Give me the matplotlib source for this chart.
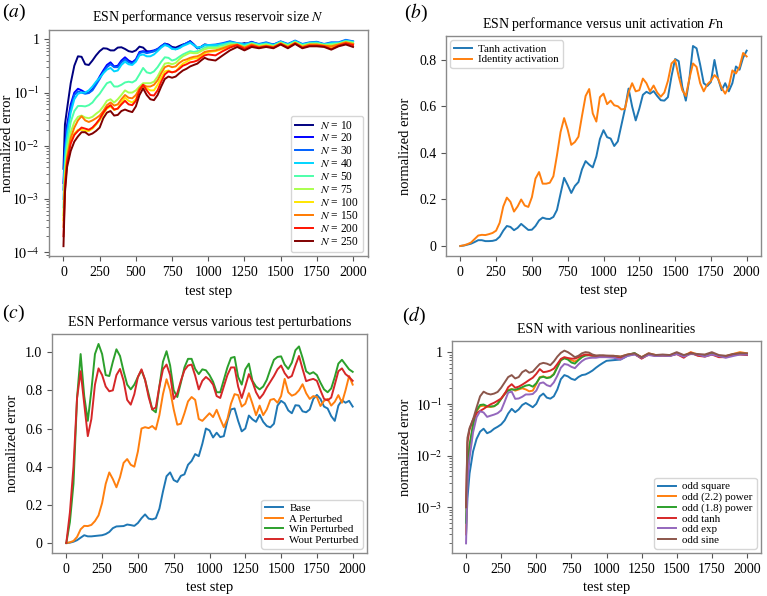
import numpy as np
import matplotlib
matplotlib.use("Agg")
import matplotlib.pyplot as plt
from matplotlib.ticker import FuncFormatter, NullFormatter, LogLocator

plt.rcParams['font.family'] = ['Liberation Serif', 'DejaVu Serif']
plt.rcParams['mathtext.fontset'] = 'stix'
plt.rcParams['font.size'] = 9.5

# ---------- data ----------
# x grid for log panels (a) and (d)
STEPS_LOG = [0, 10] + list(range(25, 1001, 25)) + list(range(1050, 2001, 50))
# x grid for linear panels (b) and (c)
STEPS_LIN = list(range(0, 2001, 25))

# (a) reservoir size
SIZES = [10, 20, 30, 40, 50, 75, 100, 150, 200, 250]
err_n10 = [0.0037, 0.025, 0.05, 0.15, 0.32, 0.48, 0.47, 0.34, 0.33, 0.4,
           0.5, 0.6, 0.68, 0.67, 0.62, 0.62, 0.7, 0.71, 0.66, 0.6, 0.58, 0.62,
           0.73, 0.7, 0.6, 0.58, 0.6, 0.65, 0.72, 0.83, 0.8, 0.72, 0.7, 0.75,
           0.8, 0.83, 0.92, 0.8, 0.68, 0.72, 0.8, 0.78,
           0.75, 0.8, 0.85, 0.78, 0.85, 0.78, 0.82, 0.75, 0.8, 0.88, 0.78,
           0.85, 0.8, 0.82, 0.85, 0.78, 0.82, 0.8, 0.88, 0.82]
err_n20 = [0.002, 0.01, 0.025, 0.06, 0.1, 0.118, 0.11, 0.1, 0.1, 0.115,
           0.15, 0.2, 0.26, 0.33, 0.37, 0.31, 0.32, 0.4, 0.46, 0.4, 0.37, 0.42,
           0.58, 0.6, 0.58, 0.6, 0.62, 0.66, 0.75, 0.83, 0.78, 0.68, 0.66, 0.7,
           0.78, 0.85, 0.92, 0.8, 0.68, 0.72, 0.78, 0.76,
           0.78, 0.82, 0.9, 0.82, 0.8, 0.9, 0.8, 0.85, 0.78, 0.9, 0.8,
           0.92, 0.8, 0.85, 0.88, 0.8, 0.85, 0.85, 0.95, 0.9]
err_n30 = [0.0015, 0.008, 0.02, 0.05, 0.09, 0.105, 0.1, 0.095, 0.098, 0.11,
           0.14, 0.18, 0.24, 0.3, 0.34, 0.3, 0.3, 0.37, 0.42, 0.37, 0.35, 0.4,
           0.55, 0.58, 0.55, 0.57, 0.6, 0.65, 0.74, 0.82, 0.76, 0.68, 0.65, 0.7,
           0.78, 0.85, 0.9, 0.78, 0.68, 0.72, 0.8, 0.78,
           0.8, 0.85, 0.92, 0.85, 0.82, 0.88, 0.82, 0.88, 0.8, 0.92, 0.82,
           0.95, 0.82, 0.88, 0.9, 0.82, 0.88, 0.88, 0.98, 0.92]
err_n40 = [0.001, 0.006, 0.016, 0.042, 0.075, 0.095, 0.1, 0.1, 0.11, 0.13,
           0.16, 0.19, 0.23, 0.27, 0.29, 0.25, 0.26, 0.33, 0.38, 0.34, 0.33, 0.38,
           0.5, 0.52, 0.48, 0.48, 0.52, 0.6, 0.7, 0.78, 0.74, 0.66, 0.65, 0.68,
           0.75, 0.8, 0.86, 0.78, 0.7, 0.72, 0.78, 0.78,
           0.78, 0.82, 0.88, 0.85, 0.8, 0.86, 0.8, 0.85, 0.78, 0.9, 0.8,
           0.93, 0.8, 0.86, 0.88, 0.8, 0.85, 0.86, 0.95, 0.9]
err_n50 = [0.0007, 0.004, 0.011, 0.028, 0.045, 0.056, 0.056, 0.055, 0.058, 0.065,
           0.08, 0.095, 0.12, 0.15, 0.16, 0.13, 0.13, 0.14, 0.155, 0.16, 0.155, 0.17,
           0.22, 0.29, 0.24, 0.23, 0.25, 0.3, 0.38, 0.46, 0.45, 0.4, 0.42, 0.47,
           0.52, 0.56, 0.6, 0.58, 0.6, 0.64, 0.7, 0.72,
           0.72, 0.78, 0.85, 0.82, 0.75, 0.85, 0.78, 0.82, 0.76, 0.88, 0.78,
           0.9, 0.78, 0.84, 0.85, 0.8, 0.82, 0.84, 0.92, 0.88]
err_n75 = [0.0005, 0.003, 0.008, 0.018, 0.028, 0.035, 0.037, 0.034, 0.033, 0.035,
           0.04, 0.045, 0.055, 0.07, 0.075, 0.065, 0.075, 0.09, 0.11, 0.1, 0.1, 0.11,
           0.13, 0.15, 0.15, 0.15, 0.16, 0.2, 0.27, 0.35, 0.36, 0.34, 0.36, 0.42,
           0.48, 0.52, 0.56, 0.55, 0.55, 0.6, 0.65, 0.68,
           0.68, 0.72, 0.8, 0.8, 0.72, 0.82, 0.75, 0.8, 0.74, 0.86, 0.76,
           0.88, 0.76, 0.82, 0.82, 0.78, 0.78, 0.82, 0.9, 0.85]
err_n100 = [0.0004, 0.0022, 0.006, 0.012, 0.017, 0.02, 0.02, 0.019, 0.019, 0.021,
            0.025, 0.03, 0.04, 0.05, 0.055, 0.047, 0.05, 0.065, 0.08, 0.07, 0.065, 0.075,
            0.11, 0.13, 0.12, 0.11, 0.11, 0.14, 0.19, 0.25, 0.26, 0.24, 0.25, 0.3,
            0.35, 0.38, 0.42, 0.44, 0.44, 0.48, 0.55, 0.58,
            0.6, 0.66, 0.75, 0.78, 0.68, 0.78, 0.72, 0.76, 0.7, 0.82, 0.72,
            0.85, 0.72, 0.78, 0.78, 0.76, 0.72, 0.8, 0.86, 0.8]
err_n150 = [0.0003, 0.002, 0.006, 0.014, 0.022, 0.03, 0.036, 0.03, 0.028, 0.03,
            0.033, 0.037, 0.045, 0.058, 0.065, 0.057, 0.06, 0.075, 0.09, 0.08, 0.078, 0.09,
            0.12, 0.14, 0.13, 0.13, 0.14, 0.17, 0.23, 0.3, 0.32, 0.3, 0.31, 0.36,
            0.4, 0.42, 0.45, 0.47, 0.48, 0.52, 0.58, 0.6,
            0.62, 0.68, 0.76, 0.8, 0.7, 0.8, 0.72, 0.76, 0.72, 0.84, 0.72,
            0.86, 0.72, 0.8, 0.8, 0.76, 0.74, 0.8, 0.88, 0.82]
err_n200 = [0.0002, 0.0015, 0.005, 0.011, 0.016, 0.019, 0.022, 0.021, 0.02, 0.022,
            0.026, 0.032, 0.042, 0.052, 0.058, 0.048, 0.05, 0.06, 0.07, 0.06, 0.058, 0.07,
            0.11, 0.14, 0.11, 0.09, 0.088, 0.11, 0.16, 0.22, 0.25, 0.24, 0.25, 0.28,
            0.32, 0.34, 0.37, 0.38, 0.4, 0.45, 0.5, 0.52,
            0.5, 0.6, 0.7, 0.78, 0.66, 0.76, 0.7, 0.74, 0.7, 0.82, 0.7,
            0.84, 0.7, 0.76, 0.76, 0.74, 0.66, 0.76, 0.84, 0.78]
err_n250 = [0.00013, 0.0013, 0.004, 0.008, 0.012, 0.015, 0.018, 0.018, 0.016, 0.017,
            0.019, 0.022, 0.033, 0.042, 0.045, 0.037, 0.038, 0.045, 0.048, 0.045, 0.043, 0.055,
            0.09, 0.12, 0.09, 0.075, 0.072, 0.09, 0.13, 0.18, 0.2, 0.19, 0.2, 0.23,
            0.26, 0.28, 0.31, 0.33, 0.35, 0.4, 0.45, 0.42,
            0.4, 0.5, 0.62, 0.72, 0.62, 0.72, 0.68, 0.72, 0.68, 0.8, 0.68,
            0.82, 0.68, 0.74, 0.74, 0.72, 0.64, 0.74, 0.8, 0.72]
ERR_SIZE = [err_n10, err_n20, err_n30, err_n40, err_n50,
            err_n75, err_n100, err_n150, err_n200, err_n250]

# (b) unit activation
err_tanh = [0.0, 0.002, 0.006, 0.01, 0.017, 0.025, 0.025, 0.021, 0.021, 0.022,
            0.026, 0.04, 0.066, 0.086, 0.082, 0.068, 0.078, 0.095, 0.082, 0.069,
            0.07, 0.086, 0.11, 0.122, 0.117, 0.116, 0.125, 0.155, 0.225, 0.293,
            0.262, 0.228, 0.258, 0.275, 0.33, 0.365, 0.35, 0.338, 0.385, 0.46,
            0.498, 0.468, 0.462, 0.43, 0.45, 0.52, 0.59, 0.677, 0.6, 0.54,
            0.59, 0.65, 0.663, 0.655, 0.666, 0.645, 0.627, 0.625, 0.64, 0.73,
            0.804, 0.795, 0.685, 0.625, 0.72, 0.86, 0.85, 0.78, 0.7, 0.688,
            0.705, 0.8, 0.72, 0.67, 0.7, 0.665, 0.7, 0.772, 0.758, 0.81, 0.84]
err_identity = [0.0, 0.003, 0.008, 0.015, 0.03, 0.045, 0.048, 0.047, 0.051, 0.056,
                0.066, 0.1, 0.17, 0.208, 0.19, 0.148, 0.17, 0.2, 0.174, 0.168,
                0.21, 0.29, 0.318, 0.268, 0.268, 0.272, 0.3, 0.39, 0.49, 0.55,
                0.5, 0.435, 0.447, 0.47, 0.56, 0.645, 0.675, 0.57, 0.535, 0.64,
                0.655, 0.61, 0.625, 0.605, 0.601, 0.587, 0.59, 0.66, 0.7, 0.665,
                0.67, 0.72, 0.7, 0.665, 0.69, 0.66, 0.642, 0.66, 0.71, 0.785,
                0.8, 0.73, 0.67, 0.645, 0.72, 0.785, 0.77, 0.7, 0.665, 0.695,
                0.71, 0.735, 0.72, 0.68, 0.655, 0.685, 0.755, 0.742, 0.77, 0.83, 0.815]

# (c) test perturbations
err_base = [0, 0.002, 0.007, 0.015, 0.028, 0.041, 0.035, 0.035, 0.037, 0.039,
            0.041, 0.047, 0.058, 0.078, 0.087, 0.088, 0.089, 0.097, 0.094, 0.09,
            0.105, 0.13, 0.15, 0.128, 0.124, 0.13, 0.18, 0.27, 0.35, 0.37,
            0.33, 0.32, 0.352, 0.36, 0.41, 0.43, 0.466, 0.455, 0.52, 0.6,
            0.59, 0.553, 0.578, 0.555, 0.56, 0.64, 0.7, 0.705, 0.64, 0.585,
            0.6, 0.668, 0.648, 0.635, 0.672, 0.635, 0.613, 0.606, 0.625, 0.72,
            0.745, 0.732, 0.695, 0.68, 0.722, 0.72, 0.69, 0.685, 0.7, 0.755,
            0.776, 0.755, 0.715, 0.705, 0.665, 0.64, 0.72, 0.748, 0.735, 0.745, 0.715]
err_a_pert = [0, 0.004, 0.011, 0.032, 0.072, 0.09, 0.089, 0.095, 0.115, 0.145,
              0.21, 0.31, 0.37, 0.335, 0.292, 0.345, 0.42, 0.44, 0.41, 0.4,
              0.48, 0.6, 0.607, 0.602, 0.613, 0.595, 0.67, 0.78, 0.858, 0.8,
              0.7, 0.62, 0.625, 0.68, 0.742, 0.765, 0.75, 0.65, 0.64, 0.66,
              0.68, 0.66, 0.698, 0.65, 0.607, 0.65, 0.73, 0.78, 0.775, 0.715,
              0.73, 0.785, 0.73, 0.67, 0.72, 0.67, 0.7, 0.75, 0.755, 0.735,
              0.77, 0.86, 0.79, 0.772, 0.78, 0.8, 0.832, 0.785, 0.755, 0.77,
              0.765, 0.718, 0.745, 0.755, 0.72, 0.74, 0.775, 0.735, 0.8, 0.875, 0.83]
err_win_pert = [0, 0.11, 0.31, 0.76, 0.99, 0.77, 0.64, 0.8, 0.99, 1.043,
                0.99, 0.88, 0.875, 0.95, 1.015, 0.98, 0.9, 0.83, 0.805, 0.83,
                0.87, 0.905, 0.855, 0.78, 0.7, 0.685, 0.82, 0.95, 1.005, 0.93,
                0.8, 0.765, 0.84, 0.92, 0.965, 0.965, 0.912, 0.885, 0.91, 0.905,
                0.88, 0.845, 0.79, 0.79, 0.855, 0.92, 0.97, 0.975, 0.87, 0.83,
                0.91, 0.94, 0.85, 0.82, 0.805, 0.82, 0.855, 0.91, 0.96, 0.975,
                0.978, 0.935, 0.912, 0.945, 1.01, 1.03, 0.97, 0.9, 0.886, 0.895,
                0.88, 0.84, 0.805, 0.79, 0.81, 0.87, 0.94, 0.96, 0.935, 0.91, 0.897]
err_wout_pert = [0, 0.16, 0.4, 0.76, 0.9, 0.73, 0.56, 0.65, 0.83, 0.915,
                 0.88, 0.82, 0.795, 0.8, 0.88, 0.912, 0.85, 0.75, 0.725, 0.78,
                 0.87, 0.91, 0.855, 0.765, 0.7, 0.71, 0.82, 0.91, 0.935, 0.88,
                 0.755, 0.785, 0.85, 0.905, 0.93, 0.935, 0.877, 0.805, 0.85, 0.87,
                 0.855, 0.83, 0.77, 0.76, 0.82, 0.88, 0.92, 0.92, 0.82, 0.76,
                 0.82, 0.885, 0.845, 0.79, 0.757, 0.78, 0.815, 0.845, 0.875, 0.91,
                 0.93, 0.89, 0.865, 0.875, 0.93, 0.98, 0.912, 0.848, 0.855, 0.86,
                 0.85, 0.8, 0.755, 0.748, 0.762, 0.83, 0.9, 0.915, 0.885, 0.87, 0.85]

# (d) nonlinearities
err_sq = [0.0003, 0.0015, 0.0045, 0.012, 0.021, 0.029, 0.033, 0.027, 0.029, 0.033,
          0.036, 0.04, 0.048, 0.065, 0.08, 0.069, 0.078, 0.095, 0.104, 0.095, 0.086, 0.1,
          0.14, 0.158, 0.132, 0.126, 0.14, 0.19, 0.3, 0.36, 0.34, 0.305, 0.29, 0.33,
          0.36, 0.37, 0.4, 0.44, 0.5, 0.56, 0.62, 0.68,
          0.7, 0.72, 0.85, 0.92, 0.76, 0.92, 0.86, 0.86, 0.85, 0.94, 0.84,
          0.96, 0.88, 0.84, 0.92, 0.84, 0.8, 0.88, 0.92, 0.9]
err_pow22 = [0.0003, 0.005, 0.014, 0.038, 0.072, 0.09, 0.092, 0.088, 0.087, 0.09,
             0.1, 0.125, 0.16, 0.185, 0.195, 0.18, 0.19, 0.2, 0.19, 0.175, 0.18, 0.24,
             0.33, 0.34, 0.32, 0.33, 0.38, 0.52, 0.7, 0.77, 0.74, 0.7, 0.66, 0.72,
             0.82, 0.88, 0.9, 0.86, 0.83, 0.84, 0.85, 0.84,
             0.85, 0.82, 0.9, 0.94, 0.8, 0.95, 0.88, 0.88, 0.86, 0.96, 0.85,
             1.0, 0.9, 0.86, 0.95, 0.84, 0.84, 0.92, 1.0, 0.95]
err_pow18 = [0.0005, 0.006, 0.016, 0.04, 0.075, 0.095, 0.097, 0.09, 0.089, 0.09,
             0.1, 0.125, 0.155, 0.18, 0.19, 0.188, 0.197, 0.21, 0.225, 0.232, 0.215, 0.25,
             0.32, 0.335, 0.315, 0.325, 0.37, 0.51, 0.7, 0.76, 0.72, 0.63, 0.6, 0.7,
             0.8, 0.86, 0.87, 0.85, 0.84, 0.85, 0.84, 0.83,
             0.84, 0.8, 0.88, 0.96, 0.78, 0.92, 0.86, 0.88, 0.86, 0.95, 0.84,
             0.96, 0.88, 0.84, 0.93, 0.82, 0.82, 0.9, 0.94, 0.9]
err_tanh_d = [0.001, 0.018, 0.032, 0.05, 0.066, 0.073, 0.08, 0.089, 0.098, 0.105,
              0.115, 0.127, 0.155, 0.21, 0.24, 0.205, 0.215, 0.235, 0.26, 0.29, 0.32, 0.38,
              0.47, 0.41, 0.42, 0.44, 0.48, 0.59, 0.74, 0.8, 0.77, 0.75, 0.75, 0.8,
              0.86, 0.9, 0.88, 0.86, 0.85, 0.84, 0.83, 0.82,
              0.82, 0.78, 0.88, 0.92, 0.75, 0.9, 0.85, 0.86, 0.85, 0.92, 0.78,
              0.98, 0.85, 0.82, 0.9, 0.8, 0.8, 0.9, 0.9, 0.88]
err_exp = [0.0002, 0.003, 0.009, 0.028, 0.055, 0.072, 0.068, 0.056, 0.059, 0.062,
           0.066, 0.075, 0.11, 0.165, 0.172, 0.125, 0.127, 0.137, 0.152, 0.152, 0.155, 0.18,
           0.25, 0.26, 0.23, 0.218, 0.26, 0.35, 0.5, 0.59, 0.57, 0.52, 0.49, 0.58,
           0.67, 0.74, 0.77, 0.78, 0.78, 0.8, 0.8, 0.8,
           0.78, 0.72, 0.85, 0.9, 0.78, 0.88, 0.84, 0.86, 0.84, 0.92, 0.82,
           0.92, 0.9, 0.82, 0.9, 0.84, 0.78, 0.84, 0.9, 0.9]
err_sine = [0.001, 0.022, 0.034, 0.05, 0.085, 0.14, 0.172, 0.158, 0.152, 0.158,
            0.17, 0.205, 0.26, 0.33, 0.36, 0.31, 0.33, 0.41, 0.45, 0.4, 0.42, 0.5,
            0.59, 0.62, 0.6, 0.56, 0.66, 0.82, 0.97, 1.07, 1.0, 0.9, 0.8, 0.85,
            0.95, 1.0, 0.98, 0.9, 0.86, 0.87, 0.87, 0.86,
            0.85, 0.82, 0.9, 0.95, 0.8, 0.95, 0.88, 0.9, 0.88, 1.0, 0.88,
            0.95, 0.92, 0.9, 1.0, 0.88, 0.85, 0.92, 0.95, 0.95]

ACT_LABELS = ["Tanh activation", "Identity activation"]
PERT_LABELS = ["Base", "A Perturbed", "Win Perturbed", "Wout Perturbed"]
NONLIN_LABELS = ["odd square", "odd (2.2) power", "odd (1.8) power",
                 "odd tanh", "odd exp", "odd sine"]
X_TICKS = list(range(0, 2001, 250))


# ---------- helpers ----------
def log_fmt(v, pos):
    e = int(round(np.log10(v)))
    if e == 0:
        return "1"
    return r"$10^{%d}$" % e


def lin_fmt(v, pos):
    if abs(v) < 1e-9:
        return "0"
    return f"{v:.1f}"


def style_axes(ax, title, ylabel_px, ax_left, ax_width, log=False):
    for sp in ax.spines.values():
        sp.set_color('#8a8a8a')
        sp.set_linewidth(1.0)
    ax.tick_params(which='both', direction='out', color='#555555',
                   labelsize=10, top=False, right=False)
    ax.tick_params(which='major', length=3.5, width=0.8)
    ax.tick_params(which='minor', length=2, width=0.6)
    ax.set_xticks(X_TICKS)
    ax.set_xlabel("test step", fontsize=10.5)
    ax.set_ylabel("normalized error", fontsize=10.5)
    # anchor of a y label is its right edge; ylabel_px is the wanted centre
    ax.yaxis.set_label_coords((ylabel_px + 6.5 - ax_left) / ax_width, 0.5)
    ax.set_title(title, fontsize=10)
    if log:
        ax.set_yscale('log')
        ax.yaxis.set_major_locator(LogLocator(base=10))
        ax.yaxis.set_major_formatter(FuncFormatter(log_fmt))
        ax.yaxis.set_minor_formatter(NullFormatter())
    else:
        ax.yaxis.set_major_formatter(FuncFormatter(lin_fmt))


def leg_kw(size):
    return dict(fontsize=size, labelspacing=0.08, handlelength=1.6,
                borderpad=0.35, handletextpad=0.6, borderaxespad=0.4)


fig = plt.figure(figsize=(7.67, 5.96), dpi=100)
W, H = 767, 596


def add_ax(left, top, right, bottom):
    return fig.add_axes([left / W, 1 - bottom / H, (right - left) / W, (bottom - top) / H])


ax_a = add_ax(49, 29.5, 367.5, 256.5)
ax_b = add_ax(446, 36, 761, 256)
ax_c = add_ax(52, 334, 367, 553)
ax_d = add_ax(452, 341, 761, 553)

# ---------- (a) ----------
jet = plt.get_cmap('jet')
for i, (n, err) in enumerate(zip(SIZES, ERR_SIZE)):
    ax_a.plot(STEPS_LOG, err, color=jet(i / (len(SIZES) - 1)), lw=1.4,
              label=rf"$N$ = {n}")
style_axes(ax_a, r"ESN performance versus reservoir size $N$", 8, 49, 318.5, log=True)
ax_a.legend(loc='lower right', **leg_kw(8.3))

# ---------- (b) ----------
ax_b.plot(STEPS_LIN, err_tanh, color='tab:blue', lw=1.4, label=ACT_LABELS[0])
ax_b.plot(STEPS_LIN, err_identity, color='tab:orange', lw=1.4, label=ACT_LABELS[1])
style_axes(ax_b, r"ESN performance versus unit activation $F$n", 405.5, 446, 315)
ax_b.set_yticks([0, 0.2, 0.4, 0.6, 0.8])
ax_b.legend(loc='upper left', **leg_kw(7.9))

# ---------- (c) ----------
for err, lab, col in zip([err_base, err_a_pert, err_win_pert, err_wout_pert],
                         PERT_LABELS,
                         ['tab:blue', 'tab:orange', 'tab:green', 'tab:red']):
    ax_c.plot(STEPS_LIN, err, color=col, lw=1.4, label=lab)
style_axes(ax_c, "ESN Performance versus various test perturbations", 12.5, 52, 315)
ax_c.set_yticks([0, 0.2, 0.4, 0.6, 0.8, 1.0])
ax_c.legend(loc='lower right', **leg_kw(7.9))

# ---------- (d) ----------
for err, lab, col in zip([err_sq, err_pow22, err_pow18, err_tanh_d, err_exp, err_sine],
                         NONLIN_LABELS,
                         ['tab:blue', 'tab:orange', 'tab:green', 'tab:red',
                          'tab:purple', 'tab:brown']):
    ax_d.plot(STEPS_LOG, err, color=col, lw=1.4, label=lab)
style_axes(ax_d, "ESN with various nonlinearities", 405.5, 452, 309, log=True)
ax_d.legend(loc='lower right', **leg_kw(7.9))

# panel letters
for x, y, letter in [(2, 12, 'a'), (404, 13, 'b'), (2, 313, 'c'), (402, 316, 'd')]:
    fig.text(x / W, 1 - y / H, "(" + r"$a$".replace('a', letter) + ")",
             fontsize=14, ha='left', va='center')

fig.savefig("out.png", dpi=100)
